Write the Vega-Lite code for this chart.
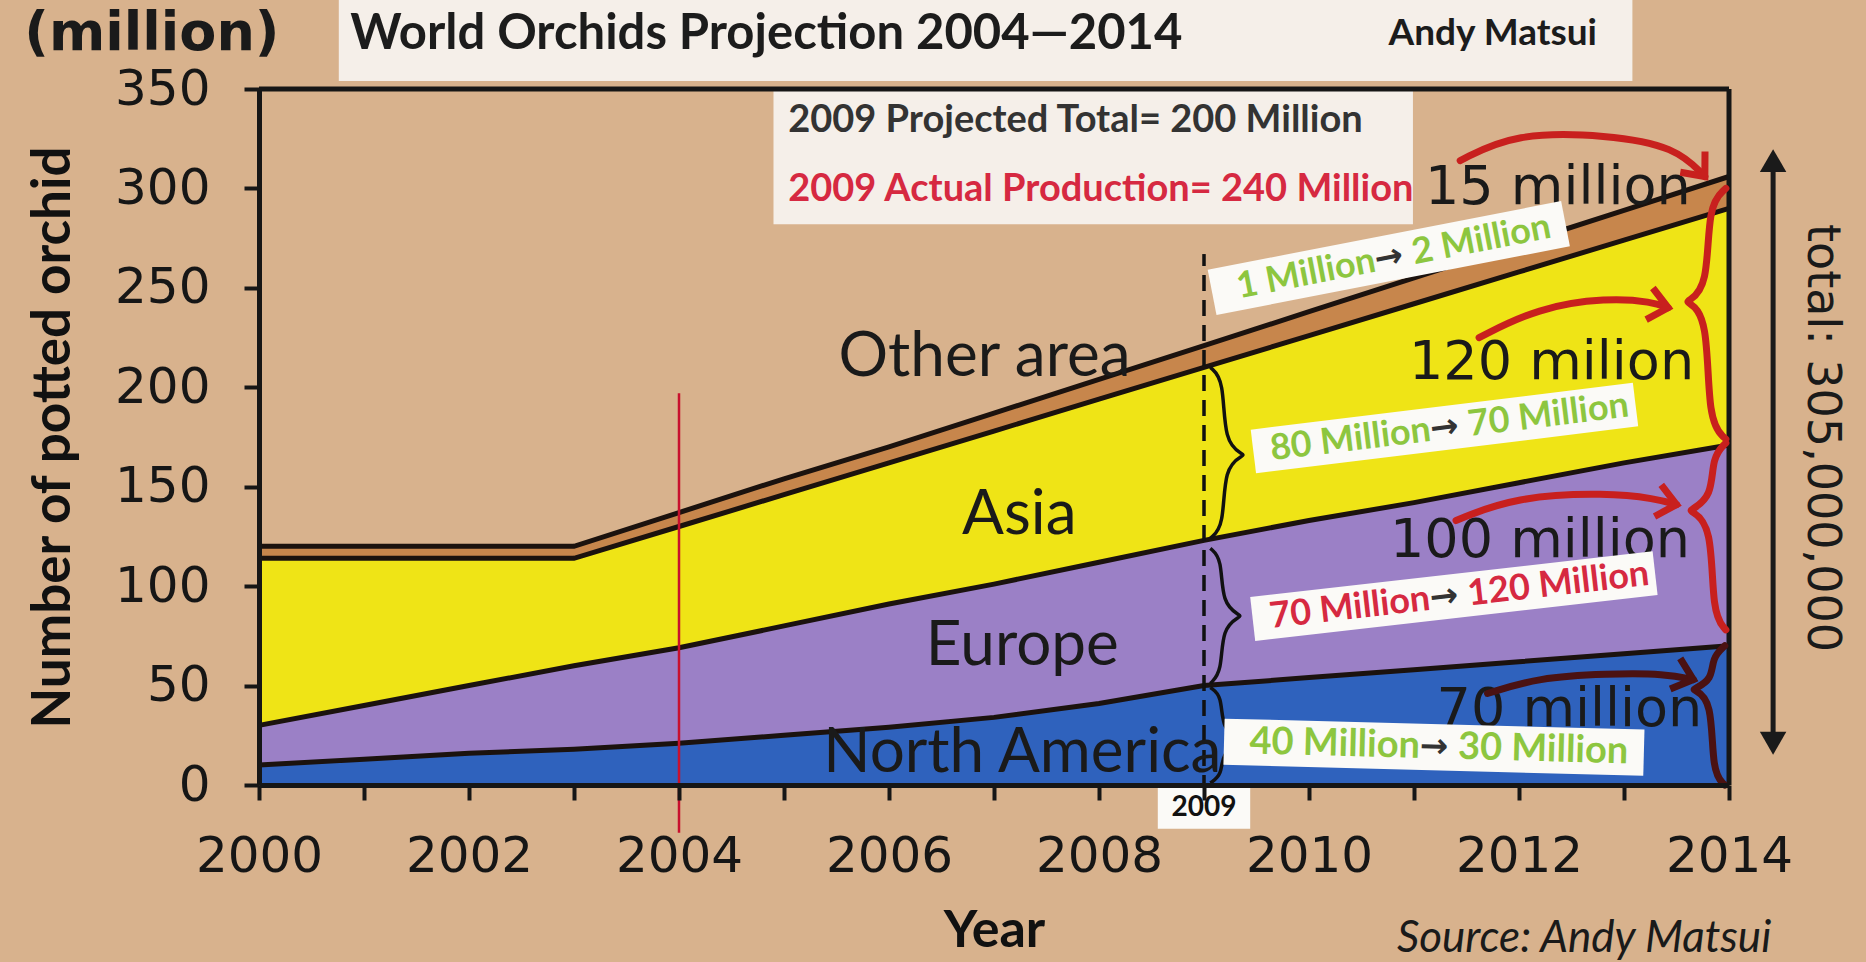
{
  "$schema": "https://vega.github.io/schema/vega-lite/v6.json",
  "width": 1470,
  "height": 696,
  "autosize": {"type": "none"},
  "padding": {"left": 259, "top": 89, "right": 137, "bottom": 177},
  "background": "#d8b28d",
  "config": {"view": {"stroke": null}},
  "datasets": {
    "orchids": [
      {"year": 2000, "region": "North America", "o": 1, "value": 10},
      {"year": 2001, "region": "North America", "o": 1, "value": 13},
      {"year": 2002, "region": "North America", "o": 1, "value": 16},
      {"year": 2003, "region": "North America", "o": 1, "value": 18},
      {"year": 2004, "region": "North America", "o": 1, "value": 21},
      {"year": 2005, "region": "North America", "o": 1, "value": 25},
      {"year": 2006, "region": "North America", "o": 1, "value": 29},
      {"year": 2007, "region": "North America", "o": 1, "value": 34},
      {"year": 2008, "region": "North America", "o": 1, "value": 41},
      {"year": 2009, "region": "North America", "o": 1, "value": 50},
      {"year": 2010, "region": "North America", "o": 1, "value": 54},
      {"year": 2011, "region": "North America", "o": 1, "value": 58},
      {"year": 2012, "region": "North America", "o": 1, "value": 62},
      {"year": 2013, "region": "North America", "o": 1, "value": 66},
      {"year": 2014, "region": "North America", "o": 1, "value": 70},
      {"year": 2000, "region": "Europe", "o": 2, "value": 20},
      {"year": 2001, "region": "Europe", "o": 2, "value": 27},
      {"year": 2002, "region": "Europe", "o": 2, "value": 34},
      {"year": 2003, "region": "Europe", "o": 2, "value": 42},
      {"year": 2004, "region": "Europe", "o": 2, "value": 48},
      {"year": 2005, "region": "Europe", "o": 2, "value": 55},
      {"year": 2006, "region": "Europe", "o": 2, "value": 62},
      {"year": 2007, "region": "Europe", "o": 2, "value": 67},
      {"year": 2008, "region": "Europe", "o": 2, "value": 71},
      {"year": 2009, "region": "Europe", "o": 2, "value": 73},
      {"year": 2010, "region": "Europe", "o": 2, "value": 79},
      {"year": 2011, "region": "Europe", "o": 2, "value": 84},
      {"year": 2012, "region": "Europe", "o": 2, "value": 90},
      {"year": 2013, "region": "Europe", "o": 2, "value": 96},
      {"year": 2014, "region": "Europe", "o": 2, "value": 101},
      {"year": 2000, "region": "Asia", "o": 3, "value": 84},
      {"year": 2001, "region": "Asia", "o": 3, "value": 74},
      {"year": 2002, "region": "Asia", "o": 3, "value": 64},
      {"year": 2003, "region": "Asia", "o": 3, "value": 54},
      {"year": 2004, "region": "Asia", "o": 3, "value": 61},
      {"year": 2005, "region": "Asia", "o": 3, "value": 66},
      {"year": 2006, "region": "Asia", "o": 3, "value": 71},
      {"year": 2007, "region": "Asia", "o": 3, "value": 77},
      {"year": 2008, "region": "Asia", "o": 3, "value": 82},
      {"year": 2009, "region": "Asia", "o": 3, "value": 87},
      {"year": 2010, "region": "Asia", "o": 3, "value": 93},
      {"year": 2011, "region": "Asia", "o": 3, "value": 100},
      {"year": 2012, "region": "Asia", "o": 3, "value": 106},
      {"year": 2013, "region": "Asia", "o": 3, "value": 112},
      {"year": 2014, "region": "Asia", "o": 3, "value": 119},
      {"year": 2000, "region": "Other area", "o": 4, "value": 6},
      {"year": 2001, "region": "Other area", "o": 4, "value": 6},
      {"year": 2002, "region": "Other area", "o": 4, "value": 6},
      {"year": 2003, "region": "Other area", "o": 4, "value": 6},
      {"year": 2004, "region": "Other area", "o": 4, "value": 7},
      {"year": 2005, "region": "Other area", "o": 4, "value": 8},
      {"year": 2006, "region": "Other area", "o": 4, "value": 8},
      {"year": 2007, "region": "Other area", "o": 4, "value": 9},
      {"year": 2008, "region": "Other area", "o": 4, "value": 10},
      {"year": 2009, "region": "Other area", "o": 4, "value": 11},
      {"year": 2010, "region": "Other area", "o": 4, "value": 12},
      {"year": 2011, "region": "Other area", "o": 4, "value": 13},
      {"year": 2012, "region": "Other area", "o": 4, "value": 14},
      {"year": 2013, "region": "Other area", "o": 4, "value": 15},
      {"year": 2014, "region": "Other area", "o": 4, "value": 16}
    ],
    "braceBlack": [
      {"g": "A", "i": 1, "x": 2009.06, "y": 210}, {"g": "A", "i": 2, "x": 2009.19, "y": 204}, {"g": "A", "i": 3, "x": 2009.19, "y": 172}, {"g": "A", "i": 4, "x": 2009.38, "y": 166}, {"g": "A", "i": 5, "x": 2009.38, "y": 166}, {"g": "A", "i": 6, "x": 2009.19, "y": 160}, {"g": "A", "i": 7, "x": 2009.19, "y": 130}, {"g": "A", "i": 8, "x": 2009.06, "y": 124},
      {"g": "B", "i": 1, "x": 2009.06, "y": 119}, {"g": "B", "i": 2, "x": 2009.17, "y": 114}, {"g": "B", "i": 3, "x": 2009.17, "y": 91}, {"g": "B", "i": 4, "x": 2009.35, "y": 85}, {"g": "B", "i": 5, "x": 2009.35, "y": 85}, {"g": "B", "i": 6, "x": 2009.17, "y": 79}, {"g": "B", "i": 7, "x": 2009.17, "y": 57}, {"g": "B", "i": 8, "x": 2009.06, "y": 51},
      {"g": "C", "i": 1, "x": 2009.06, "y": 49}, {"g": "C", "i": 2, "x": 2009.17, "y": 45}, {"g": "C", "i": 3, "x": 2009.17, "y": 28}, {"g": "C", "i": 4, "x": 2009.35, "y": 22}, {"g": "C", "i": 5, "x": 2009.35, "y": 22}, {"g": "C", "i": 6, "x": 2009.17, "y": 16}, {"g": "C", "i": 7, "x": 2009.17, "y": 5}, {"g": "C", "i": 8, "x": 2009.06, "y": 1}
    ],
    "redLines": [
      {"g": "R1", "i": 1, "x": 2013.97, "y": 300}, {"g": "R1", "i": 2, "x": 2013.8, "y": 292}, {"g": "R1", "i": 3, "x": 2013.8, "y": 250}, {"g": "R1", "i": 4, "x": 2013.6, "y": 243}, {"g": "R1", "i": 5, "x": 2013.6, "y": 243}, {"g": "R1", "i": 6, "x": 2013.8, "y": 236}, {"g": "R1", "i": 7, "x": 2013.8, "y": 182}, {"g": "R1", "i": 8, "x": 2013.97, "y": 174},
      {"g": "R2", "i": 1, "x": 2013.97, "y": 172}, {"g": "R2", "i": 2, "x": 2013.84, "y": 165}, {"g": "R2", "i": 3, "x": 2013.84, "y": 145}, {"g": "R2", "i": 4, "x": 2013.63, "y": 138}, {"g": "R2", "i": 5, "x": 2013.63, "y": 138}, {"g": "R2", "i": 6, "x": 2013.84, "y": 131}, {"g": "R2", "i": 7, "x": 2013.84, "y": 86}, {"g": "R2", "i": 8, "x": 2013.97, "y": 78},
      {"g": "a", "i": 1, "x": 2011.44, "y": 314}, {"g": "a", "i": 2, "x": 2011.96, "y": 328}, {"g": "a", "i": 3, "x": 2012.84, "y": 327}, {"g": "a", "i": 4, "x": 2013.49, "y": 321}, {"g": "a", "i": 5, "x": 2013.77, "y": 306},
      {"g": "b", "i": 1, "x": 2011.62, "y": 225}, {"g": "b", "i": 2, "x": 2012.18, "y": 240}, {"g": "b", "i": 3, "x": 2012.84, "y": 245}, {"g": "b", "i": 4, "x": 2013.27, "y": 243}, {"g": "b", "i": 5, "x": 2013.42, "y": 240},
      {"g": "c", "i": 1, "x": 2011.4, "y": 133}, {"g": "c", "i": 2, "x": 2011.96, "y": 145}, {"g": "c", "i": 3, "x": 2012.84, "y": 147}, {"g": "c", "i": 4, "x": 2013.3, "y": 144}, {"g": "c", "i": 5, "x": 2013.5, "y": 141}
    ],
    "maroonLines": [
      {"g": "M", "i": 1, "x": 2013.96, "y": 70}, {"g": "M", "i": 2, "x": 2013.84, "y": 64}, {"g": "M", "i": 3, "x": 2013.84, "y": 53}, {"g": "M", "i": 4, "x": 2013.66, "y": 48}, {"g": "M", "i": 5, "x": 2013.66, "y": 48}, {"g": "M", "i": 6, "x": 2013.84, "y": 43}, {"g": "M", "i": 7, "x": 2013.84, "y": 6}, {"g": "M", "i": 8, "x": 2013.96, "y": 0},
      {"g": "d", "i": 1, "x": 2011.7, "y": 46}, {"g": "d", "i": 2, "x": 2012.18, "y": 54}, {"g": "d", "i": 3, "x": 2012.84, "y": 56}, {"g": "d", "i": 4, "x": 2013.4, "y": 56}, {"g": "d", "i": 5, "x": 2013.66, "y": 53}
    ]
  },
  "layer": [
    {
      "data": {"name": "orchids"},
      "mark": {"type": "area", "opacity": 1},
      "encoding": {
        "x": {
          "field": "year", "type": "quantitative",
          "scale": {"domain": [2000, 2014], "nice": false, "zero": false},
          "axis": {
            "values": [2000, 2001, 2002, 2003, 2004, 2005, 2006, 2007, 2008, 2009, 2010, 2011, 2012, 2013, 2014],
            "labelExpr": "datum.value % 2 == 0 ? '' + datum.value : ''",
            "labelFont": "DejaVu Sans", "labelFontSize": 50, "labelColor": "#161616",
            "labelPadding": 31, "labelFlush": false, "labelOverlap": false,
            "tickSize": 15, "tickWidth": 4, "tickColor": "#161616",
            "domainColor": "#161616", "domainWidth": 5, "grid": false,
            "title": "Year", "titleFont": "Lato", "titleFontSize": 52, "titleFontWeight": "bold",
            "titleColor": "#111111", "titlePadding": 24, "zindex": 1
          }
        },
        "y": {
          "field": "value", "type": "quantitative", "stack": "zero",
          "scale": {"domain": [0, 350], "nice": false, "zero": false},
          "axis": {
            "values": [0, 50, 100, 150, 200, 250, 300, 350], "format": "d",
            "labelFont": "DejaVu Sans", "labelFontSize": 50, "labelColor": "#161616",
            "labelPadding": 34, "tickSize": 15, "tickWidth": 4, "tickColor": "#161616",
            "domainColor": "#161616", "domainWidth": 5, "grid": false,
            "title": "Number of potted orchid", "titleFont": "Lato", "titleFontSize": 53,
            "titleFontWeight": "bold", "titleColor": "#111111", "titlePadding": 34, "zindex": 1
          }
        },
        "color": {
          "field": "region", "type": "nominal",
          "scale": {"domain": ["North America", "Europe", "Asia", "Other area"], "range": ["#2f62bd", "#9b80c6", "#efe416", "#c7864c"]},
          "legend": null
        },
        "order": {"field": "o", "type": "quantitative"}
      }
    },
    {
      "data": {"name": "orchids"},
      "mark": {"type": "line", "color": "#1b120e", "strokeWidth": 5},
      "encoding": {
        "x": {"field": "year", "type": "quantitative"},
        "y": {"field": "value", "type": "quantitative", "stack": "zero"},
        "detail": {"field": "region", "type": "nominal"},
        "order": {"field": "o", "type": "quantitative"}
      }
    },
    {
      "encoding": {
        "x": {"field": "x", "type": "quantitative"},
        "y": {"field": "y", "type": "quantitative"}
      },
      "layer": [
        {
          "data": {"values": [
            {"x": 2000.76, "x2": 2013.08, "y": 354, "y2": 394.7},
            {"x": 2004.9, "x2": 2010.99, "y": 282, "y2": 350}
          ]},
          "mark": {"type": "rect", "color": "#f5efe9"},
          "encoding": {"x2": {"field": "x2"}, "y2": {"field": "y2"}}
        },
        {
          "data": {"values": [
            {"x": 2014, "x2": 2014, "y": 0, "y2": 350},
            {"x": 2000, "x2": 2014, "y": 350, "y2": 350}
          ]},
          "mark": {"type": "rule", "color": "#161616", "strokeWidth": 5},
          "encoding": {"x2": {"field": "x2"}, "y2": {"field": "y2"}}
        },
        {
          "data": {"values": [{"x": 2004, "y": -24, "y2": 197}]},
          "mark": {"type": "rule", "color": "#c8102e", "strokeWidth": 2.5},
          "encoding": {"y2": {"field": "y2"}}
        },
        {
          "data": {"values": [{"x": 2009, "y": -3, "y2": 267}]},
          "mark": {"type": "rule", "color": "#111111", "strokeWidth": 3.5, "strokeDash": [16, 9]},
          "encoding": {"y2": {"field": "y2"}}
        },
        {
          "data": {"values": [
            {"x": 2006.91, "y": 215, "t": "Other area"},
            {"x": 2007.24, "y": 135.7, "t": "Asia"},
            {"x": 2007.27, "y": 70, "t": "Europe"},
            {"x": 2007.27, "y": 16, "t": "North America"}
          ]},
          "mark": {"type": "text", "font": "Lato", "fontSize": 62, "color": "#1a1a1a", "align": "center", "baseline": "middle"},
          "encoding": {"text": {"field": "t"}}
        },
        {
          "data": {"values": [
            {"x": 2012.37, "y": 300.2, "t": "15 million"},
            {"x": 2012.31, "y": 212.2, "t": "120 milion"},
            {"x": 2012.2, "y": 122.7, "t": "100 million"},
            {"x": 2012.48, "y": 37.7, "t": "70 million"}
          ]},
          "mark": {"type": "text", "font": "DejaVu Sans", "fontSize": 54, "color": "#1a1a1a", "align": "center", "baseline": "middle"},
          "encoding": {"text": {"field": "t"}}
        },
        {
          "data": {"values": [{"x": 2000.87, "y": 377.5, "t": "World Orchids Projection  2004—2014"}]},
          "mark": {"type": "text", "font": "Lato", "fontWeight": "bold", "fontSize": 49, "color": "#1c1c1c", "align": "left", "baseline": "middle"},
          "encoding": {"text": {"field": "t"}}
        },
        {
          "data": {"values": [{"x": 2011.75, "y": 377.5, "t": "Andy Matsui"}]},
          "mark": {"type": "text", "font": "Lato", "fontWeight": "bold", "fontSize": 37, "color": "#1c1c1c", "align": "center", "baseline": "middle"},
          "encoding": {"text": {"field": "t"}}
        },
        {
          "data": {"values": [{"x": 2005.04, "y": 333.8, "t": "2009 Projected Total= 200 Million"}]},
          "mark": {"type": "text", "font": "Lato", "fontWeight": "bold", "fontSize": 38, "color": "#333333", "align": "left", "baseline": "middle"},
          "encoding": {"text": {"field": "t"}}
        },
        {
          "data": {"values": [{"x": 2005.04, "y": 299, "t": "2009 Actual Production= 240 Million"}]},
          "mark": {"type": "text", "font": "Lato", "fontWeight": "bold", "fontSize": 38, "color": "#d62941", "align": "left", "baseline": "middle"},
          "encoding": {"text": {"field": "t"}}
        },
        {
          "data": {"values": [{"x": 1998.98, "y": 377.5, "t": "(million)"}]},
          "mark": {"type": "text", "font": "DejaVu Sans", "fontWeight": "bold", "fontSize": 54, "color": "#1a1a1a", "align": "center", "baseline": "middle"},
          "encoding": {"text": {"field": "t"}}
        },
        {
          "data": {"values": [{"x": 2012.62, "y": -77.5, "t": "Source: Andy Matsui"}]},
          "mark": {"type": "text", "font": "Lato", "fontStyle": "italic", "fontSize": 44, "color": "#1a1a1a", "align": "center", "baseline": "middle"},
          "encoding": {"text": {"field": "t"}}
        },
        {
          "data": {"values": [{"x": 2014.89, "y": 174.5, "t": "total: 305,000,000"}]},
          "mark": {"type": "text", "font": "DejaVu Sans", "fontSize": 46, "color": "#1a1a1a", "align": "center", "baseline": "middle", "angle": 90},
          "encoding": {"text": {"field": "t"}}
        },
        {
          "data": {"values": [{"x": 2014.42, "y": 19, "y2": 316}]},
          "mark": {"type": "rule", "color": "#1a1a1a", "strokeWidth": 5},
          "encoding": {"y2": {"field": "y2"}}
        },
        {
          "data": {"values": [{"x": 2014.42, "y": 314}]},
          "mark": {"type": "point", "shape": "triangle-up", "size": 700, "filled": true, "color": "#1a1a1a", "opacity": 1}
        },
        {
          "data": {"values": [{"x": 2014.42, "y": 21}]},
          "mark": {"type": "point", "shape": "triangle-down", "size": 700, "filled": true, "color": "#1a1a1a", "opacity": 1}
        },
        {
          "data": {"name": "braceBlack"},
          "mark": {"type": "line", "interpolate": "basis", "color": "#111111", "strokeWidth": 3.5},
          "encoding": {"detail": {"field": "g"}, "order": {"field": "i", "type": "quantitative"}}
        },
        {
          "data": {"values": [{"x": 2010.76, "y": 265, "a": "1 Million", "b": "2 Million"}]},
          "layer": [
            {"mark": {"type": "point", "shape": "M-1,-0.128L1,-0.128L1,0.128L-1,0.128Z", "size": 129600, "angle": -11, "filled": true, "color": "#fbfaf7", "opacity": 1, "strokeWidth": 0}},
            {"mark": {"type": "text", "angle": -11, "align": "right", "baseline": "middle", "dx": -14, "font": "Lato", "fontWeight": "bold", "fontSize": 36, "color": "#8dc63f"}, "encoding": {"text": {"field": "a"}}},
            {"mark": {"type": "text", "angle": -11, "align": "center", "baseline": "middle", "dx": 0, "text": "→", "font": "DejaVu Sans", "fontWeight": "bold", "fontSize": 34, "color": "#333333"}},
            {"mark": {"type": "text", "angle": -11, "align": "left", "baseline": "middle", "dx": 24, "font": "Lato", "fontWeight": "bold", "fontSize": 36, "color": "#8dc63f"}, "encoding": {"text": {"field": "b"}}}
          ]
        },
        {
          "data": {"values": [{"x": 2011.29, "y": 179.5, "a": "80 Million", "b": "70 Million"}]},
          "layer": [
            {"mark": {"type": "point", "shape": "M-1,-0.114L1,-0.114L1,0.114L-1,0.114Z", "size": 148225, "angle": -7, "filled": true, "color": "#fbfaf7", "opacity": 1, "strokeWidth": 0}},
            {"mark": {"type": "text", "angle": -7, "align": "right", "baseline": "middle", "dx": -14, "font": "Lato", "fontWeight": "bold", "fontSize": 36, "color": "#8dc63f"}, "encoding": {"text": {"field": "a"}}},
            {"mark": {"type": "text", "angle": -7, "align": "center", "baseline": "middle", "dx": 0, "text": "→", "font": "DejaVu Sans", "fontWeight": "bold", "fontSize": 34, "color": "#333333"}},
            {"mark": {"type": "text", "angle": -7, "align": "left", "baseline": "middle", "dx": 24, "font": "Lato", "fontWeight": "bold", "fontSize": 36, "color": "#8dc63f"}, "encoding": {"text": {"field": "b"}}}
          ]
        },
        {
          "data": {"values": [{"x": 2011.38, "y": 95, "a": "70 Million", "b": "120 Million"}]},
          "layer": [
            {"mark": {"type": "point", "shape": "M-1,-0.109L1,-0.109L1,0.109L-1,0.109Z", "size": 164025, "angle": -6.5, "filled": true, "color": "#fbfaf7", "opacity": 1, "strokeWidth": 0}},
            {"mark": {"type": "text", "angle": -6.5, "align": "right", "baseline": "middle", "dx": -24, "font": "Lato", "fontWeight": "bold", "fontSize": 36, "color": "#d62941"}, "encoding": {"text": {"field": "a"}}},
            {"mark": {"type": "text", "angle": -6.5, "align": "center", "baseline": "middle", "dx": -10, "text": "→", "font": "DejaVu Sans", "fontWeight": "bold", "fontSize": 34, "color": "#333333"}},
            {"mark": {"type": "text", "angle": -6.5, "align": "left", "baseline": "middle", "dx": 14, "font": "Lato", "fontWeight": "bold", "fontSize": 36, "color": "#d62941"}, "encoding": {"text": {"field": "b"}}}
          ]
        },
        {
          "data": {"values": [{"x": 2011.19, "y": 19, "a": "40 Million", "b": "30 Million"}]},
          "layer": [
            {"mark": {"type": "point", "shape": "M-1,-0.11L1,-0.11L1,0.11L-1,0.11Z", "size": 176400, "angle": 1.5, "filled": true, "color": "#fbfaf7", "opacity": 1, "strokeWidth": 0}},
            {"mark": {"type": "text", "angle": 1.5, "align": "right", "baseline": "middle", "dx": -14, "font": "Lato", "fontWeight": "bold", "fontSize": 38, "color": "#8dc63f"}, "encoding": {"text": {"field": "a"}}},
            {"mark": {"type": "text", "angle": 1.5, "align": "center", "baseline": "middle", "dx": 0, "text": "→", "font": "DejaVu Sans", "fontWeight": "bold", "fontSize": 34, "color": "#333333"}},
            {"mark": {"type": "text", "angle": 1.5, "align": "left", "baseline": "middle", "dx": 24, "font": "Lato", "fontWeight": "bold", "fontSize": 38, "color": "#8dc63f"}, "encoding": {"text": {"field": "b"}}}
          ]
        },
        {
          "data": {"values": [{"x": 2008.56, "x2": 2009.44, "y": -22, "y2": -1.5}]},
          "mark": {"type": "rect", "color": "#fbfaf7"},
          "encoding": {"x2": {"field": "x2"}, "y2": {"field": "y2"}}
        },
        {
          "data": {"values": [{"x": 2009.0, "y": -11.7, "t": "2009"}]},
          "mark": {"type": "text", "font": "Lato", "fontWeight": "bold", "fontSize": 28, "color": "#111111", "align": "center", "baseline": "middle"},
          "encoding": {"text": {"field": "t"}}
        },
        {
          "data": {"name": "redLines"},
          "mark": {"type": "line", "interpolate": "basis", "color": "#c8201e", "strokeWidth": 7, "strokeCap": "round"},
          "encoding": {"detail": {"field": "g"}, "order": {"field": "i", "type": "quantitative"}}
        },
        {
          "data": {"name": "maroonLines"},
          "mark": {"type": "line", "interpolate": "basis", "color": "#4b1212", "strokeWidth": 7, "strokeCap": "round"},
          "encoding": {"detail": {"field": "g"}, "order": {"field": "i", "type": "quantitative"}}
        },
        {
          "data": {"values": [{"x": 2013.77, "y": 306}]},
          "mark": {"type": "point", "shape": "M-1,-0.85L0,0L-1,0.85", "size": 1444, "angle": 50, "filled": false, "stroke": "#c8201e", "strokeWidth": 7, "opacity": 1}
        },
        {
          "data": {"values": [{"x": 2013.42, "y": 240}, {"x": 2013.5, "y": 141}]},
          "mark": {"type": "point", "shape": "M-1,-0.85L0,0L-1,0.85", "size": 1444, "angle": 12, "filled": false, "stroke": "#c8201e", "strokeWidth": 7, "opacity": 1}
        },
        {
          "data": {"values": [{"x": 2013.66, "y": 53}]},
          "mark": {"type": "point", "shape": "M-1,-0.85L0,0L-1,0.85", "size": 1444, "angle": 18, "filled": false, "stroke": "#4b1212", "strokeWidth": 7, "opacity": 1}
        }
      ]
    }
  ]
}
